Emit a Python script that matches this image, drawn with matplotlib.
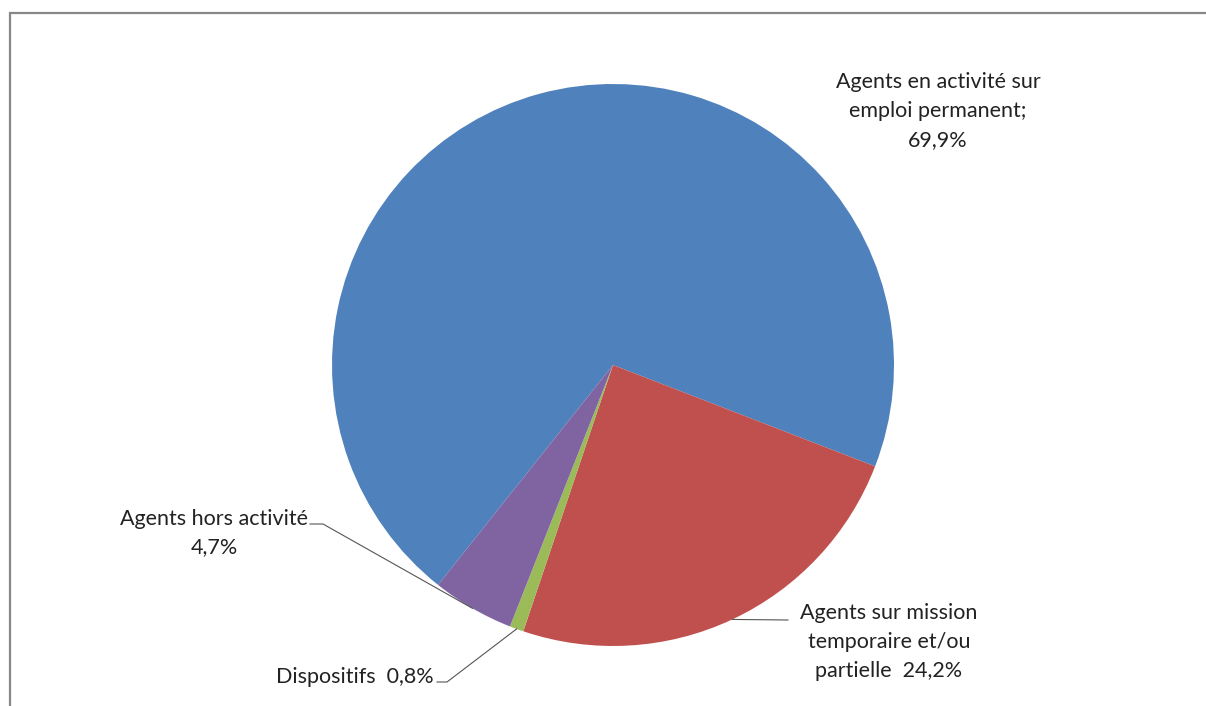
import numpy as np
import matplotlib.pyplot as plt

# repartition des agents (en %)
labels = ["Agents en activité sur\nemploi permanent;\n69,9%",
          "Agents sur mission\ntemporaire et/ou\npartielle  24,2%",
          "Dispositifs  0,8%",
          "Agents hors activité\n4,7%"]
values = [69.9, 24.2, 0.8, 4.7]
colors = ["#4F81BD", "#C0504D", "#9BBB59", "#8064A2"]

W, H = 1206, 706
plt.rcParams['font.family'] = ['Lato', 'DejaVu Sans']

fig = plt.figure(figsize=(W / 100, H / 100), dpi=100)
ax = fig.add_axes([0, 0, 1, 1])

cx, cy, r = 613, H - 365, 281
wedges, _ = ax.pie(values, colors=colors, startangle=231.5, counterclock=False,
                   center=(cx, cy), radius=r, frame=True,
                   wedgeprops=dict(linewidth=0))
ax.set_xlim(0, W)
ax.set_ylim(0, H)
ax.set_aspect("equal")
ax.set_axis_off()

def edge_point(w):
    t = np.deg2rad((w.theta1 + w.theta2) / 2)
    return cx + r * np.cos(t), cy + r * np.sin(t)

fs = 15.5
ls = 1.55
tc = "#222222"
lc = "#555555"

# etiquette principale, sans trait de rappel
ax.text(938, H - 111, labels[0], ha="center", va="center", fontsize=fs,
        color=tc, linespacing=ls)

# mission temporaire
x0, y0 = edge_point(wedges[1])
ax.plot([x0, 788], [y0, H - 620], color=lc, lw=0.8)
ax.text(889, H - 642, labels[1], ha="center", va="center", fontsize=fs,
        color=tc, linespacing=ls)

# dispositifs
x0, y0 = edge_point(wedges[2])
ax.plot([x0, 447, 437], [y0, H - 682, H - 682], color=lc, lw=0.8)
ax.text(434, H - 677, labels[2], ha="right", va="center", fontsize=fs,
        color=tc)

# hors activite
x0, y0 = edge_point(wedges[3])
ax.plot([x0, 323, 310], [y0, H - 524, H - 524], color=lc, lw=0.8)
ax.text(214, H - 533, labels[3], ha="center", va="center", fontsize=fs,
        color=tc, linespacing=ls)

# cadre du graphique
ax.plot([10, 10, W], [0, H - 13, H - 13], color="#888888", lw=1.6,
        solid_capstyle="butt", solid_joinstyle="miter")

fig.savefig("out.png", dpi=100)
